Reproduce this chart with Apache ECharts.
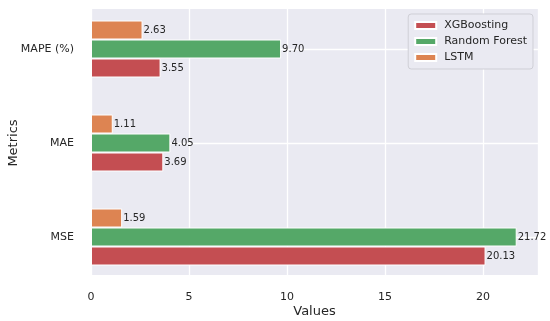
<!DOCTYPE html>
<html><head><meta charset="utf-8">
<script src="https://cdn.jsdelivr.net/npm/echarts@6/dist/echarts.min.js"></script>
<style>html,body{margin:0;padding:0;background:#fff}#c{width:550px;height:321px}</style>
</head><body><div id="c"></div>
<script>
const categories = ['MSE', 'MAE', 'MAPE (%)'];
const seriesNames = ['XGBoosting', 'Random Forest', 'LSTM'];
const xgbValues = [20.13, 3.69, 3.55];
const rfValues = [21.72, 4.05, 9.70];
const lstmValues = [1.59, 1.11, 2.63];
const xTicks = [0, 5, 10, 15, 20];
const colors = ['#C44E52', '#55A868', '#DD8452'];
const FONT = 'DejaVu Sans';
const TXT = '#262626';
const XMAX = 22.806;

const chart = echarts.init(document.getElementById('c'), null, {renderer: 'canvas'});
const allValues = [xgbValues, rfValues, lstmValues];
// ECharts stacks bars of a horizontal band top-down in series order, so add them reversed
const series = seriesNames.map((name, i) => ({
  name, type: 'bar', xAxisIndex: 1, yAxisIndex: 1,
  data: allValues[i], barWidth: 19, barGap: '0%',
  itemStyle: {color: colors[i], borderColor: '#ffffff', borderWidth: 1},
  label: {show: true, position: 'right', distance: 1, fontFamily: FONT, fontSize: 10, color: TXT,
    formatter: p => p.value.toFixed(2)}
})).reverse();

chart.setOption({
  animation: false,
  textStyle: {fontFamily: FONT},
  grid: [
    {left: 91, right: 12, top: 9, height: 266, show: true, backgroundColor: '#EAEAF2', borderWidth: 0, outerBoundsMode: 'none', containLabel: false},
    {left: 91, right: 12, top: 2, height: 282, show: false, outerBoundsMode: 'none', containLabel: false}
  ],
  xAxis: [
    {type: 'value', gridIndex: 0, min: 0, max: XMAX, interval: 5,
     axisLine: {show: false}, axisTick: {show: false},
     axisLabel: {fontFamily: FONT, fontSize: 11, color: TXT, margin: 17, showMaxLabel: false,
       formatter: v => xTicks.includes(v) ? String(v) : ''},
     splitLine: {show: true, lineStyle: {color: '#ffffff', width: 1.3}},
     name: 'Values', nameLocation: 'middle', nameGap: 30, nameMoveOverlap: false,
     nameTextStyle: {fontFamily: FONT, fontSize: 13, color: TXT}},
    {type: 'value', gridIndex: 1, min: 0, max: XMAX, show: false, splitLine: {show: false}}
  ],
  yAxis: [
    {type: 'value', gridIndex: 0, show: false, min: 0, max: 1, splitLine: {show: false}},
    {type: 'category', gridIndex: 1, data: categories,
     axisLine: {show: false}, axisTick: {show: false},
     axisLabel: {fontFamily: FONT, fontSize: 11, color: TXT, margin: 17},
     splitLine: {show: true, alignWithLabel: true, lineStyle: {color: '#ffffff', width: 1.3}},
     name: 'Metrics', nameLocation: 'middle', nameGap: 71, nameMoveOverlap: false,
     nameTextStyle: {fontFamily: FONT, fontSize: 13, color: TXT}}
  ],
  legend: {
    data: seriesNames, orient: 'vertical', right: 17, top: 14,
    icon: 'rect', itemWidth: 21, itemHeight: 7, itemGap: 5,
    padding: [6, 6, 6, 6],
    backgroundColor: '#EAEAF2', borderColor: '#cfcfd6', borderWidth: 1, borderRadius: 3,
    textStyle: {fontFamily: FONT, fontSize: 11, color: TXT, padding: [0, 0, 0, 3]}
  },
  series
});
</script></body></html>
